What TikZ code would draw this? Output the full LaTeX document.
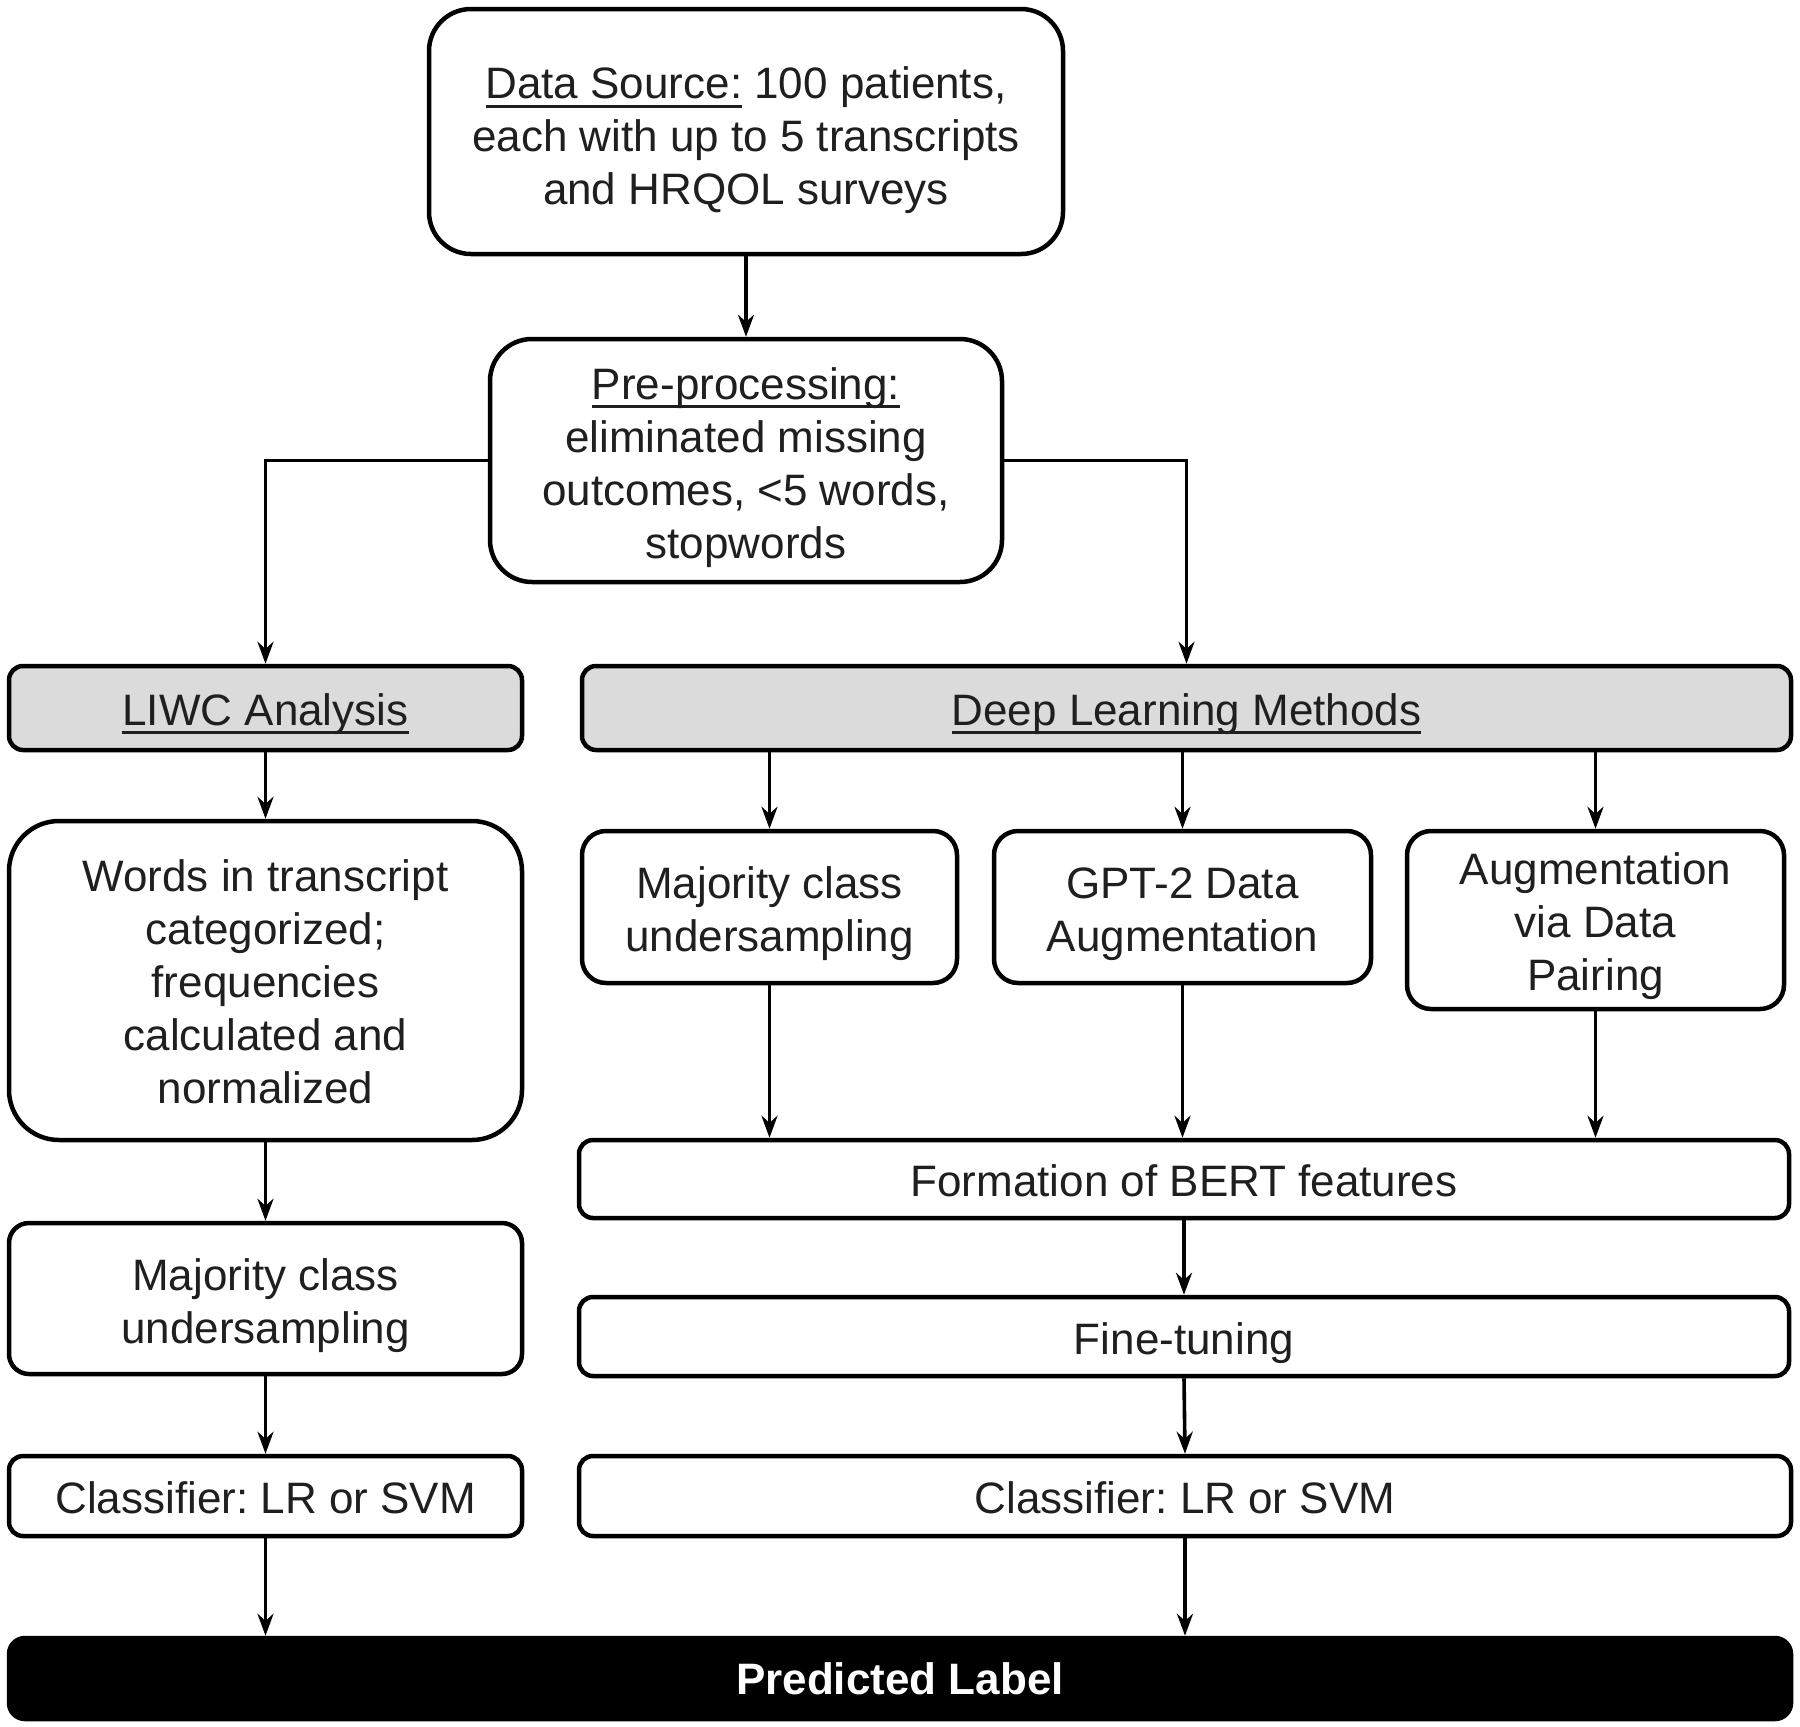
\documentclass[tikz,border=0pt]{standalone}
\usepackage{fontspec}
\setmainfont{Liberation Sans}
\usetikzlibrary{arrows.meta}
\frenchspacing
\newcommand\myul[1]{\setbox0\hbox{#1}\rlap{\rule[-9pt]{\wd0}{3pt}}\box0\relax}
\begin{document}
\begin{tikzpicture}[x=1pt,y=-1pt,
  box/.style={draw=black, line width=4.5pt, fill=white, inner sep=0pt},
  graybox/.style={box, fill=black!14, rounded corners=14pt},
  txt/.style={align=center, inner sep=0pt, font=\fontsize{44}{53}\selectfont, text=black!88},
  arr/.style={line width=3.6pt, -{Stealth[length=22pt,width=16pt]}}]
\useasboundingbox (0,0) rectangle (1800,1727);

\node[box, rounded corners=42pt, minimum width=634pt, minimum height=245pt] (ds) at (746,131.5) {};
\node[txt] (dst) at ([yshift=-9pt]ds.center)
  {\myul{Data Source:} 100 patients,\\ each with up to 5 transcripts\\ and HRQOL surveys};
\node[box, rounded corners=42pt, minimum width=512pt, minimum height=243pt] (pp) at (746,460.5) {};
\node[txt] (ppt) at ([yshift=-7pt]pp.center)
  {\myul{Pre-processing:}\\ eliminated missing\\ outcomes, <5 words,\\ stopwords};

\node[graybox, minimum width=513pt, minimum height=84pt] (liwc) at (265.5,708) {};
\node[txt] (liwct) at ([yshift=-6pt]liwc.center) {\myul{LIWC Analysis}};
\node[graybox, minimum width=1209pt, minimum height=84pt] (dl) at (1186.5,708) {};
\node[txt] (dlt) at ([yshift=-6pt]dl.center) {\myul{Deep Learning Methods}};

\node[box, rounded corners=50pt, minimum width=513pt, minimum height=319pt] (words) at (265.5,980.5) {};
\node[txt] (wordst) at ([yshift=-1pt]words.center)
  {Words in transcript\\ categorized;\\ frequencies\\ calculated and\\ normalized};
\node[box, rounded corners=24pt, minimum width=375pt, minimum height=152pt] (majr) at (769.5,907) {};
\node[txt] (majrt) at ([yshift=-7pt]majr.center) {Majority class\\ undersampling};
\node[box, rounded corners=24pt, minimum width=377pt, minimum height=152pt] (gpt) at (1182.5,907) {};
\node[txt] (gptt) at ([yshift=-7pt]gpt.center) {GPT-2 Data\\ Augmentation};
\node[box, rounded corners=24pt, minimum width=377pt, minimum height=178pt] (aug) at (1595.5,920) {};
\node[txt] (augt) at ([yshift=-6pt]aug.center) {Augmentation\\ via Data\\ Pairing};

\node[box, rounded corners=14pt, minimum width=1210pt, minimum height=78pt] (bert) at (1184,1179) {};
\node[txt] (bertt) at ([yshift=-2pt]bert.center) {Formation of BERT features};
\node[box, rounded corners=20pt, minimum width=513pt, minimum height=151pt] (majl) at (265.5,1298.5) {};
\node[txt] (majlt) at ([yshift=-7pt]majl.center) {Majority class\\ undersampling};
\node[box, rounded corners=14pt, minimum width=1210pt, minimum height=79pt] (fine) at (1184,1336.5) {};
\node[txt] (finet) at ([yshift=-7pt]fine.center) {Fine-tuning};
\node[box, rounded corners=14pt, minimum width=513pt, minimum height=80pt] (clsl) at (265.5,1496) {};
\node[txt] (clslt) at ([yshift=-2pt]clsl.center) {Classifier: LR or SVM};
\node[box, rounded corners=14pt, minimum width=1212pt, minimum height=80pt] (clsr) at (1185,1496) {};
\node[txt] (clsrt) at ([yshift=-2pt]clsr.center) {Classifier: LR or SVM};
\node[box, fill=black, rounded corners=16pt, minimum width=1782pt, minimum height=81pt] (pred) at (900,1678.5) {};
\node[txt, text=white, font=\fontsize{44}{53}\selectfont\bfseries] (predt) at (pred.center) {Predicted Label};

\draw[arr] (ds.south) -- (pp.north);
\draw[arr] (pp.west) -| (liwc.north);
\draw[arr] (pp.east) -| (dl.north);
\draw[arr] (liwc.south) -- (words.north);
\draw[arr] (words.south) -- (majl.north);
\draw[arr] (majl.south) -- (clsl.north);
\draw[arr] (clsl.south) -- (clsl.south |- pred.north);
\draw[arr] (majr.north |- dl.south) -- (majr.north);
\draw[arr] (gpt.north |- dl.south) -- (gpt.north);
\draw[arr] (aug.north |- dl.south) -- (aug.north);
\draw[arr] (majr.south) -- (majr.south |- bert.north);
\draw[arr] (gpt.south) -- (gpt.south |- bert.north);
\draw[arr] (aug.south) -- (aug.south |- bert.north);
\draw[arr] (bert.south) -- (fine.north);
\draw[arr] (fine.south) -- (clsr.north);
\draw[arr] (clsr.south) -- (clsr.south |- pred.north);
\end{tikzpicture}
\end{document}
